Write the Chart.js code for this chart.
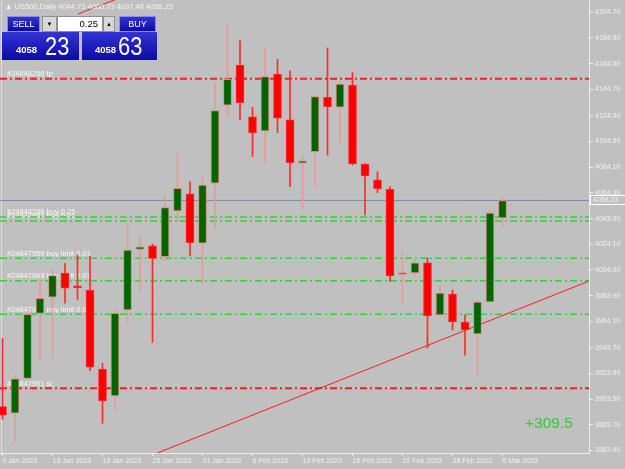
<!DOCTYPE html>
<html>
<head>
<meta charset="utf-8">
<script src="https://cdn.jsdelivr.net/npm/chart.js@4.4.1/dist/chart.umd.min.js"></script>
<style>
    body { margin: 0; background: #c0c0c0; }
    #wrap { position: relative; width: 625px; height: 469px; overflow: hidden; font-family: "Liberation Sans", Arial, sans-serif; }
    #chart { position: absolute; left: 0; top: 0; }
    #hdr { position: absolute; left: 5px; top: 2px; font-size: 7.5px; color: #f4f4f4; white-space: nowrap; }
    .blue { position: absolute; background: linear-gradient(#3434d4, #0a0aa6); color: #fff; box-sizing: border-box; }
    .btn { border: 1px solid #8c8cf0; font-size: 9px; text-align: center; line-height: 14px; }
    .spin { position: absolute; background: #d8d8d8; border: 1px solid #909090; box-sizing: border-box; font-size: 6px; text-align: center; line-height: 14px; color: #000; }
    #lot { position: absolute; left: 57px; top: 16px; width: 46px; height: 16px; background: #fff; box-sizing: border-box; border: 1px solid #909090; font-size: 9.5px; text-align: right; padding-right: 4px; line-height: 14px; color: #000; }
    .sm { position: absolute; top: 12px; font-size: 9.5px; font-weight: bold; }
    .bg { position: absolute; top: -1px; font-size: 26px; transform: scaleX(0.84); transform-origin: left; }
    #profit { position: absolute; left: 525px; top: 414px; font-size: 15.5px; color: #2ccd2c; }
</style>
</head>
<body>
<div id="wrap">
    <canvas id="chart" width="625" height="469"></canvas>
    <div id="hdr"></div>
    <div class="blue btn" style="left:7px;top:16px;width:33px;height:16px;">SELL</div>
    <div class="spin" style="left:42px;top:16px;width:15px;height:16px;">&#9660;</div>
    <div id="lot">0.25</div>
    <div class="spin" style="left:103px;top:16px;width:12px;height:16px;">&#9650;</div>
    <div class="blue btn" style="left:119px;top:16px;width:37px;height:16px;">BUY</div>
    <div class="blue" id="qSell" style="left:2px;top:32px;width:77px;height:28px;"></div>
    <div class="blue" id="qBuy" style="left:82px;top:32px;width:75px;height:28px;"></div>
    <div id="profit"></div>
</div>
<script>
// daily bars, 9 Jan - 6 Mar 2023
const dates = [
    '9 Jan 2023', '10 Jan 2023', '11 Jan 2023', '12 Jan 2023', '13 Jan 2023',
    '16 Jan 2023', '17 Jan 2023', '18 Jan 2023', '19 Jan 2023', '20 Jan 2023',
    '23 Jan 2023', '24 Jan 2023', '25 Jan 2023', '26 Jan 2023', '27 Jan 2023',
    '30 Jan 2023', '31 Jan 2023', '1 Feb 2023', '2 Feb 2023', '3 Feb 2023',
    '6 Feb 2023', '7 Feb 2023', '8 Feb 2023', '9 Feb 2023', '10 Feb 2023',
    '13 Feb 2023', '14 Feb 2023', '15 Feb 2023', '16 Feb 2023', '17 Feb 2023',
    '20 Feb 2023', '21 Feb 2023', '22 Feb 2023', '23 Feb 2023', '24 Feb 2023',
    '27 Feb 2023', '28 Feb 2023', '1 Mar 2023', '2 Mar 2023', '3 Mar 2023',
    '6 Mar 2023'
];
const opens = [
    3897.7, 3892.6, 3919.8, 3970.4, 3982.9, 4001.8, 3991.7, 3988.5, 3927.0, 3906.0,
    3973.0, 4020.2, 4023.0, 4014.5, 4050.0, 4063.3, 4024.9, 4071.6, 4132.5, 4163.7,
    4123.4, 4112.3, 4156.4, 4120.9, 4087.2, 4096.2, 4138.5, 4130.8, 4148.1, 4086.6,
    4074.2, 4066.9, 4000.6, 4001.8, 4009.6, 3969.1, 3985.4, 3963.6, 3954.3, 3979.2,
    4044.73
];
const highs = [
    3950.9, 3922.4, 3970.5, 3997.9, 4004.7, 4009.3, 4015.8, 4015.0, 3931.5, 3973.5,
    4040.5, 4031.4, 4024.3, 4062.5, 4094.9, 4072.8, 4076.7, 4149.4, 4196.1, 4182.6,
    4130.8, 4176.7, 4168.1, 4159.2, 4093.6, 4140.3, 4177.0, 4150.7, 4157.7, 4087.0,
    4080.6, 4069.0, 4018.4, 4011.9, 4013.5, 3992.4, 3988.5, 3969.1, 3980.8, 4050.8,
    4060.73
];
const lows = [
    3887.9, 3870.5, 3919.0, 3934.1, 3935.4, 3978.2, 3981.3, 3925.7, 3884.8, 3894.6,
    3963.1, 3988.0, 3947.8, 4011.9, 4041.7, 4015.0, 3993.8, 4036.6, 4123.4, 4120.9,
    4092.3, 4087.6, 4111.0, 4069.0, 4051.4, 4069.0, 4093.6, 4103.2, 4085.8, 4046.9,
    4064.3, 3995.0, 3976.1, 3999.4, 3943.4, 3968.3, 3957.4, 3937.9, 3920.0, 3978.4,
    4037.48
];
const closes = [
    3891.2, 3919.3, 3969.6, 3982.1, 3999.7, 3989.9, 3990.1, 3928.4, 3902.4, 3970.4,
    4019.7, 4022.2, 4013.2, 4052.6, 4067.7, 4025.4, 4070.3, 4128.1, 4152.5, 4134.3,
    4111.0, 4154.6, 4122.2, 4087.6, 4089.0, 4139.0, 4131.2, 4148.9, 4086.6, 4077.3,
    4067.4, 3999.4, 4001.6, 4009.6, 3968.3, 3986.2, 3963.6, 3957.4, 3979.2, 4048.5,
    4058.23
];

const priceTicks = [4204.70, 4184.90, 4164.50, 4144.70, 4124.30, 4104.50, 4084.10, 4064.30, 4043.90,
    4024.10, 4004.30, 3983.90, 3964.10, 3943.70, 3923.90, 3903.50, 3883.70, 3863.90];
const dateTickIdx = [0, 4, 8, 12, 16, 20, 24, 28, 32, 36, 40];

// order lines
const orderNames = ['#24848266 tp', '#24848266 buy 0.25', '#24847951 buy 0.01', '#24847959 buy limit 0.01',
    '#24847963 buy limit 0.01', '#24847965 buy limit 0.01', '#24847951 sl'];
const orderPrices = [4153.0, 4045.4, 4042.3, 4013.2, 3995.8, 3969.6, 3912.0];
const orderKinds = ['stop', 'entry', 'entry', 'entry', 'entry', 'entry', 'stop'];

// trend lines (bar index, price)
const trendX = [12.4, 46.92];
const trendY = [3861.7, 3995.5];
const trend2X = [6.04, 9.0];
const trend2Y = [4203.4, 4214.5];

const symbol = 'US500,Daily';
const bid = 4058.23;
const ask = 4058.63;
const profit = '+309.5';

const last = closes.length - 1;

document.getElementById('hdr').textContent = '\u25B2 ' + symbol + ' ' +
    [opens[last], highs[last], lows[last], closes[last]].map(v => v.toFixed(2)).join(' ');
document.getElementById('profit').textContent = profit;

function fillQuote(id, price, smLeft, bgLeft) {
    const s = price.toFixed(2);
    const el = document.getElementById(id);
    el.innerHTML = `<span class="sm" style="left:${smLeft}px">${s.slice(0, 4)}</span>` +
        `<span class="bg" style="left:${bgLeft}px">${s.slice(5)}</span>`;
}
fillQuote('qSell', bid, 14, 43);
fillQuote('qBuy', ask, 13, 36);

const up = closes.map((c, i) => c >= opens[i]);
const bodyFill = up.map(u => u ? '#006400' : '#ff0000');
const bodyEdge = up.map(u => u ? '#d98c7c' : '#ff2a2a');
const wickCol = up.map(u => u ? '#e49c95' : '#ff2a2a');

const X_MIN = -0.2, X_MAX = 46.92;
const Y_MIN = 3861.66, Y_MAX = 4214.27;

const levelSets = orderPrices.map((p, i) => ({
    type: 'line',
    data: [{ x: X_MIN, y: p }, { x: X_MAX, y: p }],
    borderColor: orderKinds[i] === 'stop' ? '#ff1a1a' : '#3ccc3c',
    borderWidth: orderKinds[i] === 'stop' ? 2 : 1.5,
    borderDash: [7, 3, 2, 3],
    pointRadius: 0
}));

const textColor = '#f2f2f2';
const tickFont = { family: 'Liberation Sans', size: 7 };

const chartPlugin = {
    id: 'mtExtras',
    beforeDatasetsDraw(chart) {
        const { ctx, chartArea, scales } = chart;
        ctx.save();
        // left border
        ctx.strokeStyle = '#dedede';
        ctx.lineWidth = 1;
        ctx.beginPath();
        ctx.moveTo(1.5, chartArea.top);
        ctx.lineTo(1.5, chartArea.bottom);
        ctx.stroke();
        // order labels
        ctx.font = '7.5px "Liberation Sans"';
        ctx.fillStyle = '#f8f8f8';
        ctx.textBaseline = 'bottom';
        orderNames.forEach((name, i) => {
            ctx.fillText(name, chartArea.left + 7, scales.y.getPixelForValue(orderPrices[i]) - 1);
        });
        ctx.restore();
    },
    afterDraw(chart) {
        const { ctx, chartArea, scales } = chart;
        const y = Math.round(scales.y.getPixelForValue(closes[last]));
        ctx.save();
        ctx.fillStyle = '#c0c0c0';
        ctx.fillRect(chartArea.right + 1, y - 4, 35, 9);
        ctx.strokeStyle = '#ffffff';
        ctx.lineWidth = 1;
        ctx.strokeRect(chartArea.right + 1.5, y - 4.5, 36, 9);
        ctx.font = '7px "Liberation Sans"';
        ctx.fillStyle = textColor;
        ctx.textBaseline = 'middle';
        ctx.fillText(closes[last].toFixed(2), chartArea.right + 4, y + 0.5);
        ctx.restore();
    }
};

new Chart(document.getElementById('chart'), {
    type: 'bar',
    data: {
        datasets: [
            {
                type: 'bar',
                data: opens.map((o, i) => ({ x: i, y: [o, closes[i]] })),
                backgroundColor: bodyFill,
                borderColor: bodyEdge,
                borderWidth: 1,
                borderSkipped: false,
                barThickness: 8,
                minBarLength: 2,
                grouped: false
            },
            {
                type: 'bar',
                data: lows.map((l, i) => ({ x: i, y: [l, highs[i]] })),
                backgroundColor: wickCol,
                borderWidth: 0,
                barThickness: 1,
                grouped: false
            },
            {
                type: 'line',
                data: trendX.map((x, i) => ({ x: x, y: trendY[i] })),
                borderColor: '#ff1a1a',
                borderWidth: 1,
                pointRadius: 0
            },
            {
                type: 'line',
                data: trend2X.map((x, i) => ({ x: x, y: trend2Y[i] })),
                borderColor: '#ff1a1a',
                borderWidth: 1,
                pointRadius: 0
            },
            ...levelSets,
            {
                type: 'line',
                data: [{ x: X_MIN, y: closes[last] }, { x: X_MAX, y: closes[last] }],
                borderColor: '#7b8ea3',
                borderWidth: 1,
                pointRadius: 0
            }
        ]
    },
    options: {
        responsive: false,
        animation: false,
        layout: { padding: 0 },
        plugins: {
            legend: { display: false },
            tooltip: { enabled: false }
        },
        scales: {
            x: {
                type: 'linear',
                offset: false,
                min: X_MIN,
                max: X_MAX,
                afterBuildTicks: s => { s.ticks = dateTickIdx.map(v => ({ value: v })); },
                afterFit: s => { s.height = 16; s.paddingLeft = 0; s.paddingRight = 0; },
                grid: { offset: false, drawOnChartArea: false, tickLength: 3, color: '#eeeeee' },
                border: { color: '#eeeeee' },
                ticks: {
                    autoSkip: false,
                    maxRotation: 0,
                    align: 'start',
                    padding: 1,
                    color: textColor,
                    font: tickFont,
                    callback: v => dates[v]
                }
            },
            y: {
                position: 'right',
                min: Y_MIN,
                max: Y_MAX,
                afterBuildTicks: s => { s.ticks = priceTicks.map(v => ({ value: v })); },
                afterFit: s => { s.width = 36; s.paddingTop = 0; s.paddingBottom = 0; },
                grid: { drawOnChartArea: false, tickLength: 4, color: '#eeeeee' },
                border: { color: '#eeeeee' },
                ticks: {
                    padding: 2,
                    color: textColor,
                    font: tickFont,
                    callback: v => v.toFixed(2)
                }
            }
        }
    },
    plugins: [chartPlugin]
});
</script>
</body>
</html>
